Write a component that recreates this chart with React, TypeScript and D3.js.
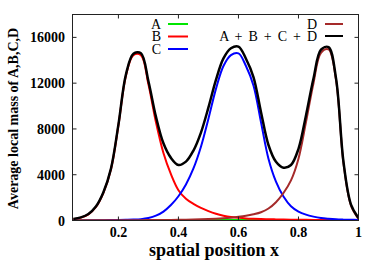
import React from "react";
import * as d3 from "d3";

const xs = [0.05,0.075,0.1,0.125,0.15,0.175,0.2,0.225,0.25,0.275,0.3,0.325,0.35,0.375,0.4,0.425,0.45,0.475,0.5,0.525,0.55,0.575,0.6,0.625,0.65,0.675,0.7,0.725,0.75,0.775,0.8,0.825,0.85,0.875,0.9,0.925,0.95,0.975,1.0];
const seriesA = [5,5,6,6,7,8,9,10,11,12,14,16,18,20,23,26,30,34,38,42,45,47,48,47,45,42,38,34,30,26,22,18,15,12,10,8,7,6,5];
const seriesB = [110,250,540,1180,2420,4450,8300,12650,14450,14450,11900,8600,5900,4050,2650,1900,1450,1100,820,590,420,300,230,180,150,125,110,95,85,75,65,55,50,45,40,35,30,25,20];
const seriesC = [5,8,12,18,25,35,45,60,80,120,220,420,780,1350,2120,3150,4550,6450,8900,11500,13500,14450,14600,13500,11800,8600,5400,3400,2100,1250,780,510,340,220,150,100,75,60,50];
const seriesD = [10,12,14,16,18,20,22,25,28,31,35,40,45,52,60,70,82,100,125,155,195,250,320,410,540,720,1050,1600,2400,3500,5400,8600,12000,14650,14950,12300,5000,1300,150];

const xTicks = [0.2, 0.4, 0.6, 0.8, 1];
const xTickLabels = ["0.2", "0.4", "0.6", "0.8", "1"];
const yTicks = [0, 4000, 8000, 12000, 16000];
const yTickLabels = ["0", "4000", "8000", "12000", "16000"];

const legendLeft = ["A", "B", "C"];
const legendRight = ["D", "A + B + C + D"];
const colors = { A: "#00e600", B: "#ff0000", C: "#0000ff", D: "#a52a2a", S: "#000000" };

const W = 382, H = 262;
const L = 72.5, R = 358.5, T = 14.5, B = 220.5;

export default function App() {
  const x = d3.scaleLinear().domain([0.047, 1]).range([L, R]);
  const y = d3.scaleLinear().domain([0, 18000]).range([B, T]);
  const sum = xs.map((_, i) => seriesA[i] + seriesB[i] + seriesC[i] + seriesD[i]);
  const line = (vals: number[]) =>
    d3.line<number>()
      .x((_, i) => x(xs[i]))
      .y((v) => y(v))
      .curve(d3.curveCatmullRom.alpha(0.5))(vals) as string;

  const font = "'Liberation Serif', 'DejaVu Serif', serif";
  const tickLen = 4;
  const series = [
    { vals: seriesA, color: colors.A, w: 2 },
    { vals: seriesB, color: colors.B, w: 2 },
    { vals: seriesC, color: colors.C, w: 2 },
    { vals: seriesD, color: colors.D, w: 2 },
    { vals: sum, color: colors.S, w: 2.5 },
  ];
  const leftColors = [colors.A, colors.B, colors.C];
  const rightColors = [colors.D, colors.S];

  return (
    <svg width={W} height={H} style={{ position: "absolute", left: 0, top: 0, background: "#fff" }}>
      <defs>
        <clipPath id="plot">
          <rect x={L} y={T} width={R - L} height={B - T} />
        </clipPath>
      </defs>
      <g clipPath="url(#plot)" fill="none" strokeLinejoin="round">
        {series.map((s, i) => (
          <path key={i} d={line(s.vals)} stroke={s.color} strokeWidth={s.w} />
        ))}
      </g>
      <rect x={L} y={T} width={R - L} height={B - T} fill="none" stroke="#222" strokeWidth={1} />
      {xTicks.map((t, i) => (
        <g key={"x" + i}>
          <line x1={x(t)} x2={x(t)} y1={B} y2={B - tickLen} stroke="#222" />
          <line x1={x(t)} x2={x(t)} y1={T} y2={T + tickLen} stroke="#222" />
          <text x={x(t)} y={237} textAnchor="middle" fontFamily={font} fontWeight="bold" fontSize={14}>{xTickLabels[i]}</text>
        </g>
      ))}
      {yTicks.map((t, i) => (
        <g key={"y" + i}>
          <line x1={L} x2={L + tickLen} y1={y(t)} y2={y(t)} stroke="#222" />
          <line x1={R} x2={R - tickLen} y1={y(t)} y2={y(t)} stroke="#222" />
          <text x={65} y={y(t) + 5} textAnchor="end" fontFamily={font} fontWeight="bold" fontSize={14}>{yTickLabels[i]}</text>
        </g>
      ))}
      <text x={214} y={256} textAnchor="middle" fontFamily={font} fontWeight="bold" fontSize={18}>spatial position x</text>
      <text transform={`translate(18,${(T + B) / 2 + 1}) rotate(-90)`} textAnchor="middle" fontFamily={font} fontWeight="bold" fontSize={14}>Average local mass of A,B,C,D</text>
      {legendLeft.map((lbl, i) => (
        <g key={"ll" + i}>
          <text x={161} y={28.5 + i * 12.5} textAnchor="end" fontFamily={font} fontSize={14}>{lbl}</text>
          <line x1={168} x2={188} y1={24 + i * 12.5} y2={24 + i * 12.5} stroke={leftColors[i]} strokeWidth={2} />
        </g>
      ))}
      {legendRight.map((lbl, i) => (
        <g key={"lr" + i}>
          <text x={317} y={28.5 + i * 12} textAnchor="end" fontFamily={font} fontSize={14} wordSpacing={2.5}>{lbl}</text>
          <line x1={325} x2={343} y1={24 + i * 12} y2={24 + i * 12} stroke={rightColors[i]} strokeWidth={2} />
        </g>
      ))}
    </svg>
  );
}
